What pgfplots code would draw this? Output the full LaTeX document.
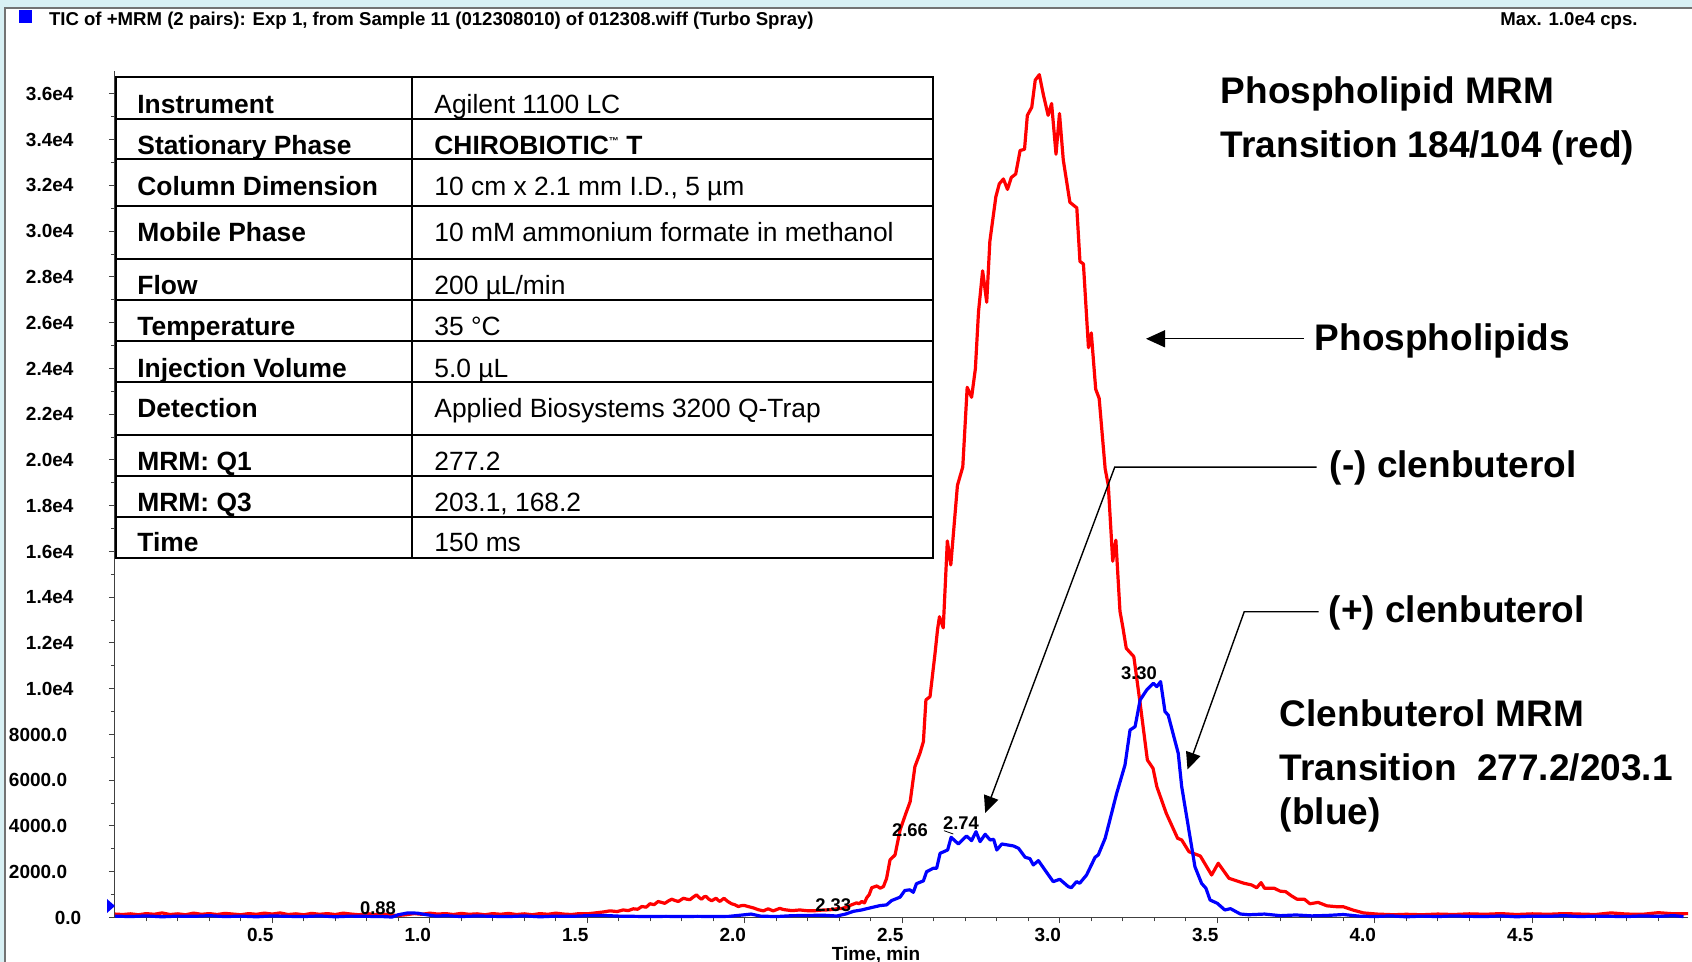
\documentclass[border=0pt]{standalone}
\usepackage{fontspec}
\setmainfont{Liberation Sans}
\usepackage{pgfplots}
\pgfplotsset{compat=1.18}
\usetikzlibrary{arrows.meta}

\definecolor{bgcyan}{HTML}{D8F0F4}
\newcommand{\fs}[1]{\fontsize{#1}{#1}\selectfont}
\newcommand{\yl}[2]{\makebox[0pt][r]{#1\kern#2}}

% phospholipid MRM 184/104 (red)
\pgfplotstableread{
t cps
0.000 150
0.025 130
0.050 160
0.075 120
0.100 170
0.125 140
0.150 200
0.175 130
0.200 160
0.225 120
0.250 190
0.275 140
0.300 170
0.325 130
0.350 180
0.375 150
0.400 120
0.425 170
0.450 140
0.475 190
0.500 150
0.525 200
0.550 130
0.575 160
0.600 120
0.625 180
0.650 140
0.675 170
0.700 130
0.725 190
0.750 150
0.775 120
0.800 170
0.825 130
0.850 160
0.875 100
0.900 90
0.925 120
0.950 170
0.975 140
1.000 190
1.025 150
1.050 170
1.075 130
1.100 180
1.125 140
1.150 160
1.175 120
1.200 170
1.225 140
1.250 180
1.275 130
1.300 160
1.325 120
1.350 170
1.375 140
1.400 190
1.425 150
1.450 130
1.475 170
1.500 160
1.525 200
1.550 240
1.572 290
1.595 260
1.614 330
1.630 300
1.646 380
1.660 360
1.673 480
1.687 450
1.699 600
1.712 560
1.725 700
1.746 620
1.757 720
1.768 800
1.779 740
1.789 700
1.805 840
1.816 800
1.826 780
1.837 900
1.847 990
1.855 870
1.863 800
1.870 900
1.877 920
1.886 800
1.895 730
1.902 790
1.909 840
1.915 760
1.921 700
1.928 780
1.934 840
1.946 700
1.958 600
1.968 560
1.979 480
1.990 520
2.000 520
2.013 470
2.027 420
2.043 340
2.059 290
2.074 380
2.090 290
2.100 340
2.111 400
2.122 350
2.132 330
2.150 300
2.175 330
2.195 300
2.218 290
2.240 320
2.260 330
2.280 350
2.292 380
2.310 400
2.323 460
2.340 560
2.355 640
2.363 600
2.371 700
2.380 640
2.387 860
2.395 1000
2.403 1300
2.419 1380
2.430 1280
2.440 1350
2.450 1700
2.461 2516
2.477 2734
2.493 3826
2.510 4500
2.525 5066
2.540 6594
2.556 7178
2.567 7688
2.575 9509
2.588 9655
2.604 11555
2.612 12600
2.618 13147
2.630 12661
2.643 16461
2.654 15412
2.675 18887
2.692 19696
2.706 23176
2.720 22739
2.732 23985
2.742 26490
2.755 28269
2.768 26896
2.778 29563
2.797 31504
2.808 32072
2.821 32282
2.834 31828
2.846 32348
2.860 32500
2.874 33529
2.888 33580
2.897 35064
2.911 35418
2.922 36602
2.935 36842
2.948 35955
2.963 35064
2.974 35580
2.988 33367
2.999 35147
3.011 33123
3.032 31265
3.054 31020
3.064 28677
3.075 28570
3.091 24907
3.100 25554
3.114 23093
3.125 22691
3.144 19617
3.154 18887
3.168 15573
3.178 16495
3.191 13391
3.200 12700
3.211 11768
3.235 11403
3.255 9364
3.278 6886
3.296 6521
3.308 5720
3.338 4554
3.374 3462
3.387 3389
3.410 2877
3.446 2689
3.482 1858
3.503 2370
3.537 1714
3.585 1495
3.609 1422
3.625 1300
3.639 1524
3.650 1276
3.681 1276
3.700 1150
3.717 1130
3.735 950
3.753 800
3.777 794
3.794 600
3.820 660
3.848 510
3.880 470
3.900 470
3.932 320
3.964 200
4.006 150
4.060 120
4.100 140
4.150 120
4.200 150
4.250 130
4.300 160
4.350 140
4.400 170
4.450 130
4.500 160
4.550 140
4.600 170
4.650 150
4.700 130
4.750 200
4.800 150
4.850 140
4.900 210
4.950 160
4.995 170
}\redtic

% clenbuterol MRM 277.2/203.1 (blue)
\pgfplotstableread{
t cps
0.00 60
0.05 40
0.10 70
0.15 30
0.20 60
0.25 50
0.30 80
0.35 40
0.40 60
0.45 30
0.50 70
0.55 50
0.60 40
0.65 70
0.70 30
0.75 60
0.80 50
0.85 40
0.88 20
0.90 120
0.93 200
0.96 190
0.99 120
1.02 60
1.05 80
1.10 40
1.15 70
1.20 50
1.25 40
1.30 70
1.35 30
1.40 60
1.45 50
1.50 80
1.55 90
1.60 60
1.65 50
1.70 40
1.75 50
1.80 40
1.85 50
1.90 40
1.95 50
2.00 120
2.02 150
2.05 60
2.10 40
2.15 80
2.20 90
2.25 100
2.292 65
2.320 150
2.345 270
2.371 330
2.398 420
2.429 520
2.450 550
2.466 740
2.493 890
2.508 1180
2.524 1210
2.535 1100
2.545 1480
2.567 1600
2.577 2000
2.598 2150
2.609 2150
2.620 2806
2.644 2951
2.655 3506
2.678 3214
2.704 3564
2.720 3360
2.734 3752
2.747 3316
2.763 3637
2.779 3389
2.790 3418
2.800 2951
2.816 3214
2.853 3127
2.869 3025
2.890 2632
2.905 2574
2.916 2297
2.932 2487
2.958 1976
2.979 1568
3.000 1670
3.027 1349
3.037 1305
3.053 1568
3.063 1495
3.085 1858
3.112 2632
3.122 2734
3.144 3462
3.159 4262
3.180 5400
3.207 6667
3.223 8197
3.239 8343
3.255 9509
3.276 9946
3.297 10239
3.308 10093
3.320 10312
3.334 8998
3.344 8852
3.376 7178
3.387 5720
3.408 3970
3.429 2221
3.450 1495
3.464 1276
3.477 765
3.500 620
3.524 328
3.542 386
3.573 153
3.60 120
3.65 150
3.70 80
3.75 110
3.80 70
3.85 90
3.90 130
3.95 60
4.00 40
4.05 70
4.10 30
4.15 60
4.20 40
4.25 70
4.30 50
4.35 40
4.40 70
4.45 30
4.50 60
4.55 50
4.60 80
4.65 40
4.70 60
4.75 50
4.80 40
4.85 70
4.90 50
4.95 80
4.98 40
}\bluetic

\begin{document}
\begin{tikzpicture}
\useasboundingbox (0,0) rectangle (846pt,481pt);
\fill[bgcyan] (0,0) rectangle (846pt,481pt);
\fill[white] (2.5pt,0) rectangle (846pt,477pt);
\draw[black!55, line width=0.6pt] (2.5pt,0) -- (2.5pt,477pt) -- (846pt,477pt);

\begin{axis}[
  at={(57.4pt,22.25pt)}, anchor=south west,
  scale only axis, width=786.7pt, height=423.2pt,
  xmin=0, xmax=4.995, ymin=0, ymax=37000,
  axis lines=left,
  axis line style={-, black!75, line width=0.6pt},
  clip=false,
  scaled y ticks=false,
  tick align=outside,
  major tick length=3pt, minor tick length=2pt,
  tick style={black!75, line width=0.5pt},
  xtick={0.5,1,1.5,2,2.5,3,3.5,4,4.5},
  xticklabels={0.5,1.0,1.5,2.0,2.5,3.0,3.5,4.0,4.5},
  minor xtick={0.1,0.2,0.3,0.4,0.6,0.7,0.8,0.9,1.1,1.2,1.3,1.4,1.6,1.7,1.8,1.9,2.1,2.2,2.3,2.4,2.6,2.7,2.8,2.9,3.1,3.2,3.3,3.4,3.6,3.7,3.8,3.9,4.1,4.2,4.3,4.4,4.6,4.7,4.8,4.9},
  ytick={0,2000,4000,6000,8000,10000,12000,14000,16000,18000,20000,22000,24000,26000,28000,30000,32000,34000,36000},
  yticklabels={\yl{0.0}{-4.35pt},\yl{2000.0}{2.7pt},\yl{4000.0}{2.7pt},\yl{6000.0}{2.7pt},\yl{8000.0}{2.7pt},1.0e4,1.2e4,1.4e4,1.6e4,1.8e4,2.0e4,2.2e4,2.4e4,2.6e4,2.8e4,3.0e4,3.2e4,3.4e4,3.6e4},
  minor ytick={1000,3000,5000,7000,9000,11000,13000,15000,17000,19000,21000,23000,25000,27000,29000,31000,33000,35000},
  xticklabel style={font=\bfseries\fs{9.5pt}, inner sep=0pt, anchor=north, xshift=-6pt, yshift=-2.2pt},
  yticklabel style={font=\bfseries\fs{9.5pt}, inner sep=0pt, anchor=east, xshift=-17.45pt},
]
\addplot[red, line width=1.6pt, line join=round] table[x=t, y=cps] {\redtic};
\addplot[blue, line width=1.6pt, line join=round] table[x=t, y=cps] {\bluetic};
\end{axis}

% everything below in reference pixel units (x right, y down)
\begin{scope}[x=0.5pt, y=-0.5pt, yshift=481pt]
  % header
  \fill[blue] (19.4,9.7) rectangle (32.4,22.7);
  \node[anchor=base west, inner sep=0pt, font=\bfseries\fs{9.3pt}] at (48.6,26)
    {TIC of +MRM (2 pairs): Exp 1, from Sample 11 (012308010) of 012308.wiff (Turbo Spray)};
  \node[anchor=base west, inner sep=0pt, font=\bfseries\fs{9.3pt}] at (1500,26) {Max. 1.0e4 cps.};
  % start marker
  \fill[blue] (107,899) -- (115,906) -- (107,913) -- cycle;
  % axis title
  \node[font=\bfseries\fs{9.5pt}, inner sep=0pt] at (876,955) {Time, min};

  % method table
  \fill[white] (116,77) rectangle (933,558);
  \draw[line width=0.8pt] (116,77) rectangle (933,558);
  \draw[line width=0.8pt] (412,77) -- (412,558);
  \foreach \yy in {119,159,206,259,300,341,382,435,476,517}
    \draw[line width=0.8pt] (116,\yy) -- (933,\yy);
  \begin{scope}[every node/.style={anchor=base west, inner sep=0pt, font=\fs{13.2pt}}]
    \node[font=\bfseries\fs{13.2pt}] at (137,113.5) {Instrument};
    \node at (434,113.5) {Agilent 1100 LC};
    \node[font=\bfseries\fs{13.2pt}] at (137,154.7) {Stationary Phase};
    \node[font=\bfseries\fs{13.2pt}] at (434,154.7) {CHIROBIOTIC\raisebox{5pt}{\fs{5pt}™} T};
    \node[font=\bfseries\fs{13.2pt}] at (137,195.7) {Column Dimension};
    \node at (434,195.7) {10 cm x 2.1 mm I.D., 5 µm};
    \node[font=\bfseries\fs{13.2pt}] at (137,242) {Mobile Phase};
    \node at (434,242) {10 mM ammonium formate in methanol};
    \node[font=\bfseries\fs{13.2pt}] at (137,295) {Flow};
    \node at (434,295) {200 µL/min};
    \node[font=\bfseries\fs{13.2pt}] at (137,336) {Temperature};
    \node at (434,336) {35 °C};
    \node[font=\bfseries\fs{13.2pt}] at (137,378) {Injection Volume};
    \node at (434,378) {5.0 µL};
    \node[font=\bfseries\fs{13.2pt}] at (137,418) {Detection};
    \node at (434,418) {Applied Biosystems 3200 Q-Trap};
    \node[font=\bfseries\fs{13.2pt}] at (137,471) {MRM: Q1};
    \node at (434,471) {277.2};
    \node[font=\bfseries\fs{13.2pt}] at (137,512) {MRM: Q3};
    \node at (434,512) {203.1, 168.2};
    \node[font=\bfseries\fs{13.2pt}] at (137,552) {Time};
    \node at (434,552) {150 ms};
  \end{scope}

  % peak labels
  \begin{scope}[every node/.style={inner sep=0pt, font=\bfseries\fs{9.2pt}}]
    \node at (378,907.7) {0.88};
    \node at (833.3,905) {2.33};
    \node at (910,830) {2.66};
    \node at (961,823.3) {2.74};
    \node at (1139,673.3) {3.30};
  \end{scope}
  \draw[line width=0.4pt] (944,830.7) -- (953.3,834);

  % annotations
  \begin{scope}[every node/.style={anchor=base west, inner sep=0pt, font=\bfseries\fs{18.5pt}}]
    \node at (1220.5,103.6) {Phospholipid MRM};
    \node at (1220.5,157.5) {Transition 184/104 (red)};
    \node at (1314.3,350.7) {Phospholipids};
    \node at (1329.5,478) {(-) clenbuterol};
    \node at (1328.5,622.6) {(+) clenbuterol};
    \node at (1279.5,726.7) {Clenbuterol MRM};
    \node at (1279.5,780.7) {Transition\ \ 277.2/203.1};
    \node at (1279.5,825) {(blue)};
  \end{scope}
  \draw[line width=0.7pt, -{Triangle[length=9.5pt,width=8.5pt]}] (1303.6,338.8) -- (1146,338.8);
  \draw[line width=0.7pt, -{Triangle[length=8.5pt,width=7.5pt]}] (1316.5,467.2) -- (1114.7,467.2) -- (985.2,813);
  \draw[line width=0.7pt, -{Triangle[length=8.5pt,width=7.5pt]}] (1318.7,611.8) -- (1244.2,611.8) -- (1187.5,769.5);
\end{scope}
\end{tikzpicture}
\end{document}
